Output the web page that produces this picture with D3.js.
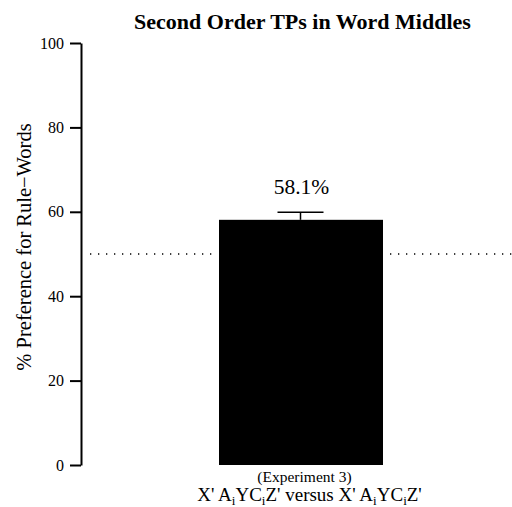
<!DOCTYPE html>
<html><head><meta charset="utf-8">
<script src="https://cdn.jsdelivr.net/npm/d3@7"></script>
<style>body{margin:0;background:#fff;font-family:"Liberation Serif","Times New Roman",Times,serif}svg{display:block}svg text{font-family:"Liberation Serif","Times New Roman",Times,serif !important}</style>
</head><body>
<svg id="c" width="512" height="507" font-family="Liberation Serif"></svg>
<script>
const categories = ["(Experiment 3)"];
const values = [58.1];
const errors = [1.8];
const valueLabels = ["58.1%"];
const yTicks = [0, 20, 40, 60, 80, 100];
const chanceLevel = 50;

const svg = d3.select("#c");
const y = d3.scaleLinear().domain([0, 100]).range([465, 43]);
const x = d3.scaleBand().domain(categories).range([219, 383]).paddingInner(0).paddingOuter(0);

// chance line
[[90, 212], [390, 512]].forEach(([a, b]) => {
  svg.append("line").attr("x1", a).attr("x2", b).attr("y1", y(chanceLevel)).attr("y2", y(chanceLevel))
    .attr("stroke", "#000").attr("stroke-width", 1.3).attr("stroke-dasharray", "1.3,6.7");
});

// axis
const ax = svg.append("g").attr("transform", "translate(81,0)")
  .call(d3.axisLeft(y).tickValues(yTicks).tickSize(11).tickPadding(6).tickSizeOuter(0));
ax.attr("font-family", null).attr("font-size", null);
ax.select(".domain").attr("stroke-width", 2);
ax.selectAll(".tick line").attr("stroke-width", 2);
ax.selectAll(".tick text").style("font-size", "16px").attr("fill", "#000");

// bar
svg.selectAll("rect.bar").data(values).join("rect").attr("class", "bar")
  .attr("x", (d, i) => x(categories[i])).attr("width", x.bandwidth())
  .attr("y", d => y(d)).attr("height", d => y(0) - y(d)).attr("fill", "#000");

// error bars
values.forEach((v, i) => {
  const cx = x(categories[i]) + x.bandwidth() / 2 - 0.5;
  svg.append("line").attr("x1", cx).attr("x2", cx).attr("y1", y(v)).attr("y2", y(v + errors[i])).attr("stroke", "#000").attr("stroke-width", 1.5);
  svg.append("line").attr("x1", cx - 23).attr("x2", cx + 23).attr("y1", y(v + errors[i])).attr("y2", y(v + errors[i])).attr("stroke", "#000").attr("stroke-width", 1.5);
  svg.append("text").attr("x", cx + 1).attr("y", 194).attr("text-anchor", "middle").style("font-size", "21.5px").text(valueLabels[i]);
  svg.append("text").attr("x", 304.5).attr("y", 482).attr("text-anchor", "middle").style("font-size", "15.5px").text(categories[i]);
});

// x sub label with subscripts
const t = svg.append("text").attr("x", 309.5).attr("y", 501).attr("text-anchor", "middle").style("font-size", "19px");
const parts = [["X' A", 0], ["i", 1], ["YC", 0], ["i", 1], ["Z' versus X' A", 0], ["i", 1], ["YC", 0], ["i", 1], ["Z'", 0]];
let prevSub = false;
parts.forEach(([s, sub]) => {
  const ts = t.append("tspan").text(s);
  if (sub) { ts.style("font-size", "13px").attr("dy", 4); prevSub = true; }
  else if (prevSub) { ts.attr("dy", -4); prevSub = false; }
});

// title
svg.append("text").attr("x", 302.5).attr("y", 28.5).attr("text-anchor", "middle").style("font-size", "22px").style("font-weight", "bold").text("Second Order TPs in Word Middles");

// y label
svg.append("text").attr("transform", "translate(31,247) rotate(-90)").attr("text-anchor", "middle").style("font-size", "20.5px").text("% Preference for Rule\u2212Words");
</script>
</body></html>
